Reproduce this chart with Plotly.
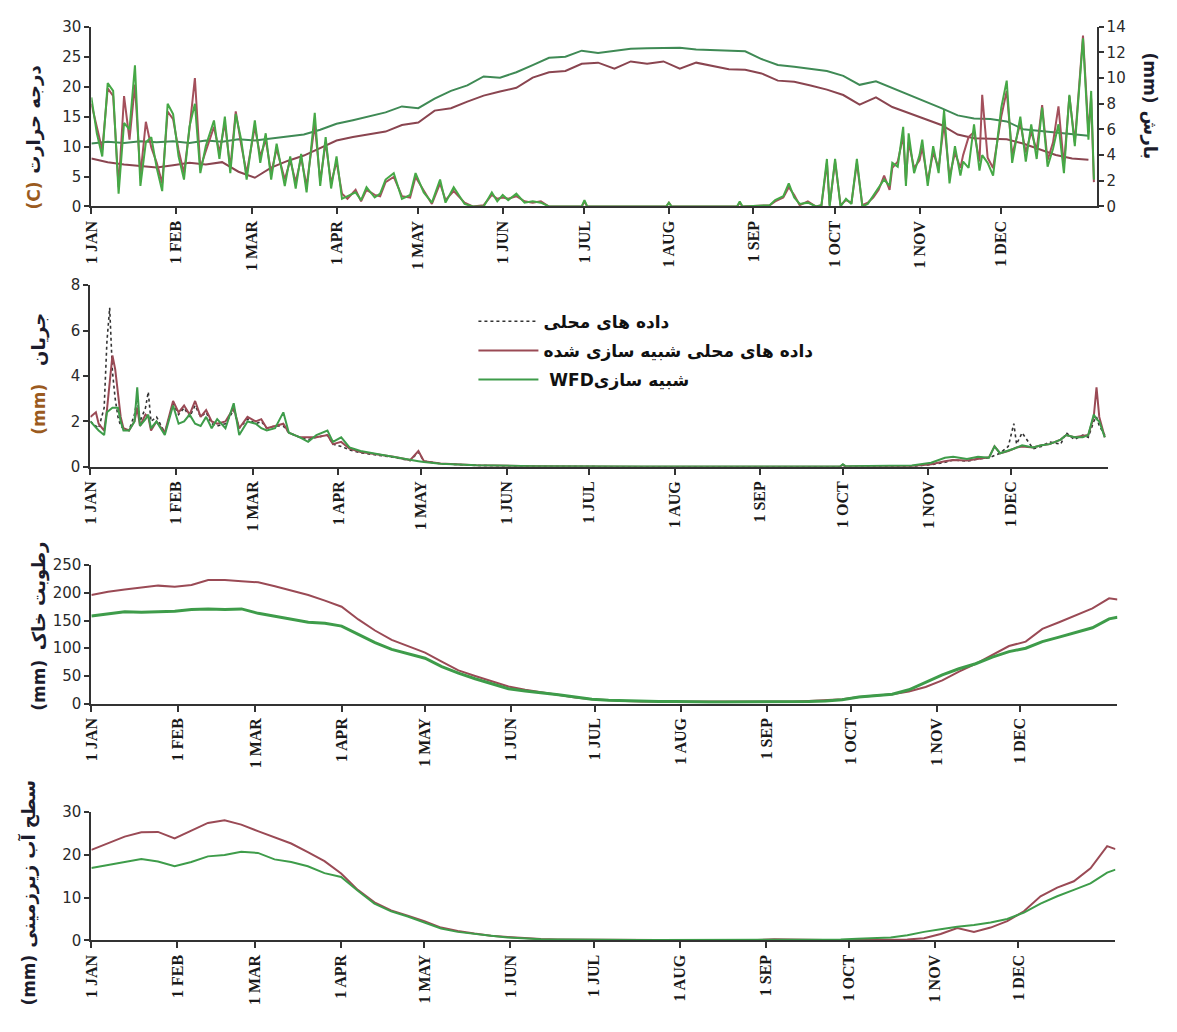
import plotly.graph_objects as go

W, H = 1177, 1032

MONTH_DAYS = [0, 31, 59, 90, 120, 151, 181, 212, 243, 273, 304, 334]
MONTH_LABELS = ["1 JAN", "1 FEB", "1 MAR", "1 APR", "1 MAY", "1 JUN",
                "1 JUL", "1 AUG", "1 SEP", "1 OCT", "1 NOV", "1 DEC"]

# ---------------- Panel 1: temperature (left axis) ----------------
TEMP_DAYS = list(range(0, 367, 6))
TEMP_GREEN = [10.5, 10.8, 10.6, 10.9, 10.7, 10.9, 10.6, 11.0, 10.8, 11.2,
              11.0, 11.3, 11.6, 12.0, 12.8, 13.8, 14.4, 15.0, 15.7, 16.7,
              16.4, 18.0, 19.3, 20.2, 21.7, 21.5, 22.4, 23.6, 24.8, 25.0,
              26.0, 25.6, 25.9, 26.3, 26.4, 26.5, 26.5, 26.2, 26.1, 26.0,
              25.9, 24.6, 23.6, 23.3, 23.0, 22.6, 21.8, 20.3, 20.9, 19.8,
              18.6, 17.5, 16.4, 15.2, 14.7, 14.6, 14.2, 12.9, 12.6, 12.4,
              12.1, 11.8]
TEMP_RED = [8.0, 7.4, 7.0, 6.7, 6.5, 6.9, 7.3, 7.0, 7.4, 5.8,
            4.8, 6.5, 7.6, 8.5, 9.8, 11.0, 11.6, 12.0, 12.5, 13.6,
            14.0, 16.0, 16.4, 17.5, 18.5, 19.2, 19.8, 21.5, 22.4, 22.6,
            23.8, 24.0, 23.0, 24.2, 23.8, 24.2, 23.0, 24.0, 23.5, 22.9,
            22.8, 22.2, 21.0, 20.8, 20.2, 19.5, 18.6, 17.0, 18.2, 16.6,
            15.6, 14.6, 13.6, 12.0, 11.4, 11.3, 11.2, 10.5, 9.5, 8.6,
            8.0, 7.8]

# ---------------- Panel 1: precipitation (right axis) ----------------
PRECIP_DAYS = [0, 2, 4, 6, 8, 10, 12, 14, 16, 18, 20, 22, 24, 26, 28, 30, 32, 34, 36, 38,
               40, 42, 45, 47, 49, 51, 53, 55, 57, 60, 62, 64, 66, 68, 71, 73, 75, 77, 79, 82,
               84, 86, 88, 90, 92, 94, 97, 99, 101, 104, 106, 108, 111, 114, 117, 119, 122, 125, 128, 130,
               133, 137, 140, 144, 147, 149, 151, 153, 156, 159, 162, 165, 168, 180, 181, 182, 211, 212, 213, 237,
               238, 239, 249, 251, 254, 256, 258, 260, 263, 266, 268, 270, 271, 273, 275, 277, 279, 281, 283, 285,
               287, 289, 291, 293, 294, 296, 298, 299, 300, 302, 304, 305, 307, 309, 311, 313, 315, 317, 319, 320,
               322, 324, 326, 327, 329, 331, 334, 336, 338, 341, 343, 345, 347, 349, 351, 353, 355, 357, 359, 361,
               364, 366, 367, 368]
PRECIP_GREEN = [8.5, 5.7, 3.9, 9.6, 9.0, 1.0, 6.5, 6.0, 11.0, 1.6, 5.0, 5.4, 3.0, 1.2, 8.0, 7.2, 3.9, 2.1, 6.2, 8.0,
                2.6, 4.7, 6.7, 3.7, 7.0, 2.6, 7.2, 5.2, 2.1, 6.7, 3.4, 5.7, 2.1, 4.9, 1.6, 3.9, 1.4, 4.1, 1.1, 7.3,
                1.6, 5.4, 1.4, 3.9, 0.6, 0.8, 1.1, 0.5, 1.5, 0.7, 1.0, 2.1, 2.6, 0.6, 0.9, 2.6, 1.1, 0.3, 2.1, 0.3,
                1.5, 0.2, 0.0, 0.0, 1.1, 0.4, 0.9, 0.5, 1.0, 0.3, 0.4, 0.3, 0.0, 0.0, 0.5, 0.0, 0.0, 0.3, 0.0, 0.0,
                0.4, 0.0, 0.1, 0.5, 0.8, 1.8, 0.7, 0.2, 0.3, 0.0, 0.1, 3.7, 0.0, 3.7, 0.0, 0.6, 0.2, 3.7, 0.0, 0.2,
                0.8, 1.5, 2.1, 1.6, 3.4, 3.1, 6.2, 1.6, 5.7, 2.6, 4.0, 5.2, 1.6, 4.7, 2.6, 7.5, 1.8, 4.7, 2.4, 3.5,
                3.0, 6.4, 2.8, 4.0, 3.4, 2.4, 7.7, 9.8, 3.4, 7.0, 3.5, 6.4, 3.7, 7.7, 3.1, 4.5, 6.4, 2.6, 8.7, 4.7,
                13.1, 5.2, 9.0, 2.1]
PRECIP_RED = [8.0, 6.3, 4.4, 9.2, 8.6, 1.5, 8.6, 5.2, 9.5, 2.4, 6.6, 4.6, 3.4, 1.8, 7.4, 6.8, 4.4, 2.6, 6.0, 10.0,
              3.0, 4.3, 6.2, 4.2, 6.5, 3.0, 7.4, 4.8, 2.6, 6.2, 3.9, 5.2, 2.6, 4.5, 2.1, 3.6, 1.9, 3.8, 1.6, 6.4,
              2.0, 5.0, 1.8, 3.5, 1.0, 0.6, 1.3, 0.4, 1.3, 0.9, 0.8, 1.9, 2.3, 0.8, 0.7, 2.3, 1.3, 0.2, 1.8, 0.5,
              1.2, 0.3, 0.0, 0.1, 0.9, 0.6, 0.7, 0.6, 0.8, 0.4, 0.3, 0.4, 0.0, 0.0, 0.4, 0.0, 0.0, 0.3, 0.0, 0.0,
              0.3, 0.0, 0.1, 0.4, 0.7, 1.5, 0.9, 0.1, 0.4, 0.0, 0.1, 3.4, 0.1, 3.5, 0.1, 0.5, 0.3, 3.4, 0.1, 0.3,
              0.7, 1.3, 2.4, 1.3, 3.0, 3.5, 5.5, 2.0, 5.0, 3.0, 3.6, 4.6, 2.0, 4.2, 3.0, 6.5, 2.3, 4.2, 3.0, 4.0,
              5.4, 5.8, 3.5, 8.7, 3.8, 3.0, 7.0, 9.0, 4.0, 6.5, 4.2, 5.8, 4.4, 7.9, 3.6, 5.0, 7.8, 3.2, 8.6, 5.0,
              13.3, 5.8, 8.4, 1.9]

# ---------------- Panel 2: streamflow ----------------
FLOW_DAYS = [0, 2, 3, 5, 6, 7, 8, 9, 10, 11, 12, 14, 16, 17, 18, 20, 21, 22, 24, 27,
             30, 32, 34, 36, 38, 40, 42, 44, 46, 49, 52, 54, 57, 60, 62, 64, 67, 70, 72, 76,
             79, 82, 86, 88, 91, 94, 98, 104, 110, 116, 119, 121, 127, 140, 161, 200, 250, 272, 273, 274,
             298, 305, 310, 313, 318, 322, 326, 328, 330, 333, 335, 336, 338, 342, 345, 348, 352, 354, 357, 360,
             362, 364, 365, 366, 368]
FLOW_OBS = [2.0, 1.8, 1.7, 2.6, 5.5, 7.0, 4.2, 3.0, 2.2, 1.8, 1.7, 1.6, 2.3, 3.0, 2.0, 2.6, 3.3, 2.0, 2.2, 1.5,
            2.8, 2.3, 2.6, 2.2, 2.7, 2.2, 2.4, 1.9, 1.8, 1.9, 2.5, 1.7, 2.1, 1.9, 2.0, 1.7, 1.8, 1.8, 1.5, 1.3,
            1.2, 1.3, 1.4, 1.0, 0.9, 0.75, 0.62, 0.52, 0.42, 0.28, 0.65, 0.25, 0.14, 0.06, 0.02, 0.0, 0.0, 0.0, 0.08, 0.0,
            0.02, 0.1, 0.2, 0.3, 0.25, 0.35, 0.4, 0.5, 0.6, 0.9, 1.9, 1.0, 1.5, 0.8, 0.9, 1.1, 1.0, 1.5, 1.2, 1.4,
            1.3, 2.0, 2.2, 1.8, 1.4]
FLOW_RED = [2.2, 2.4, 1.9, 1.6, 2.5, 3.6, 4.9, 4.3, 3.2, 2.2, 1.7, 1.6, 2.0, 2.6, 1.8, 2.3, 2.2, 1.6, 2.0, 1.5,
            2.9, 2.4, 2.7, 2.3, 2.9, 2.2, 2.5, 2.0, 1.9, 2.0, 2.6, 1.7, 2.2, 2.0, 2.1, 1.7, 1.8, 1.9, 1.5, 1.3,
            1.3, 1.3, 1.4, 1.0, 1.1, 0.8, 0.65, 0.55, 0.45, 0.3, 0.7, 0.25, 0.15, 0.07, 0.03, 0.01, 0.01, 0.01, 0.1, 0.02,
            0.04, 0.12, 0.25, 0.3, 0.28, 0.35, 0.42, 0.9, 0.6, 0.7, 0.8, 0.85, 0.9, 0.85, 0.95, 1.0, 1.2, 1.4, 1.3, 1.35,
            1.4, 2.2, 3.5, 2.2, 1.3]
FLOW_GREEN = [2.0, 1.7, 1.6, 1.4, 2.4, 2.5, 2.6, 2.6, 2.6, 2.0, 1.6, 1.6, 2.0, 3.5, 1.8, 2.1, 2.3, 1.7, 2.0, 1.4,
              2.7, 1.9, 2.0, 2.3, 1.9, 1.8, 2.2, 1.7, 2.1, 1.7, 2.8, 1.4, 2.0, 1.9, 1.7, 1.6, 1.7, 2.4, 1.5, 1.3,
              1.1, 1.4, 1.6, 1.1, 1.3, 0.86, 0.7, 0.57, 0.43, 0.29, 0.25, 0.21, 0.14, 0.07, 0.03, 0.02, 0.02, 0.02, 0.12, 0.03,
              0.06, 0.18, 0.4, 0.45, 0.35, 0.45, 0.4, 0.9, 0.6, 0.7, 0.8, 0.85, 0.95, 0.85, 0.95, 1.0, 1.2, 1.4, 1.3, 1.3,
              1.4, 2.3, 2.1, 2.0, 1.3]

# ---------------- Panel 3: soil moisture ----------------
SOIL_DAYS = list(range(0, 367, 6)) + [369]
SOIL_RED = [196, 202, 206, 210, 213, 211, 214, 223, 223, 221,
            219, 212, 204, 196, 186, 175, 152, 132, 115, 104,
            92, 76, 60, 50, 40, 31, 25, 20, 15, 11,
            8, 6, 5, 4, 4, 3, 3, 3, 3, 3,
            3, 4, 4, 5, 6, 8, 12, 14, 17, 22,
            30, 42, 58, 72, 88, 104, 112, 135, 147, 160,
            172, 190, 188]
SOIL_GREEN = [158, 162, 166, 165, 166, 167, 170, 171, 170, 171,
              163, 158, 153, 147, 145, 140, 125, 110, 98, 90,
              82, 67, 55, 45, 36, 27, 23, 20, 16, 12,
              8, 6, 5, 4, 4, 4, 3, 3, 3, 3,
              3, 4, 4, 4, 5, 7, 12, 14, 17, 25,
              38, 52, 63, 72, 84, 94, 100, 112, 120, 128,
              137, 153, 156]

# ---------------- Panel 4: groundwater ----------------
GW_DAYS = list(range(0, 367, 6)) + [369]
GW_RED = [21.1, 22.6, 24.2, 25.2, 25.3, 23.8, 25.6, 27.4, 28.0, 27.0,
          25.5, 24.0, 22.6, 20.6, 18.5, 15.6, 11.8, 8.9, 7.0, 5.8,
          4.5, 3.0, 2.2, 1.6, 1.1, 0.8, 0.5, 0.35, 0.25, 0.2,
          0.15, 0.1, 0.1, 0.1, 0.1, 0.1, 0.1, 0.1, 0.1, 0.1,
          0.1, 0.3, 0.2, 0.1, 0.1, 0.1, 0.1, 0.1, 0.1, 0.2,
          0.5, 1.5, 2.9, 2.0, 3.0, 4.5, 6.8, 10.3, 12.3, 13.8,
          16.8, 22.0, 21.3]
GW_GREEN = [16.9, 17.6, 18.3, 19.0, 18.4, 17.3, 18.3, 19.6, 19.9, 20.7,
            20.4, 18.9, 18.3, 17.3, 15.7, 14.8, 11.6, 8.6, 6.8, 5.6,
            4.2, 2.8, 2.0, 1.5, 1.1, 0.7, 0.45, 0.3, 0.2, 0.15,
            0.1, 0.1, 0.1, 0.1, 0.1, 0.1, 0.1, 0.1, 0.1, 0.1,
            0.1, 0.1, 0.1, 0.1, 0.1, 0.2, 0.4, 0.5, 0.7, 1.2,
            2.0, 2.6, 3.2, 3.6, 4.2, 5.0, 6.5, 8.6, 10.3, 11.8,
            13.3, 15.8, 16.5]

LEGEND_NAMES = ["داده های محلی", "داده های محلی شبیه سازی شده", " WFDشبیه سازی"]

assert len(TEMP_DAYS) == len(TEMP_GREEN) == len(TEMP_RED)
assert len(PRECIP_DAYS) == len(PRECIP_GREEN) == len(PRECIP_RED)
assert len(FLOW_DAYS) == len(FLOW_OBS) == len(FLOW_RED) == len(FLOW_GREEN)
assert len(SOIL_DAYS) == len(SOIL_RED) == len(SOIL_GREEN)
assert len(GW_DAYS) == len(GW_RED) == len(GW_GREEN)

RED = "#9A4A55"
GREEN = "#3E9C4A"
RED_T = "#8A4550"
GREEN_T = "#3F8A55"
GREEN_P = "#46A846"
RED_P = "#A4505C"


def px_x(p):
    return p / W


def px_y(p):
    return 1 - p / H


fig = go.Figure()

# Panel 1
fig.add_trace(go.Scatter(x=TEMP_DAYS, y=TEMP_RED, mode="lines", line=dict(color=RED_T, width=2),
                         xaxis="x", yaxis="y", showlegend=False))
fig.add_trace(go.Scatter(x=TEMP_DAYS, y=TEMP_GREEN, mode="lines", line=dict(color=GREEN_T, width=2),
                         xaxis="x", yaxis="y", showlegend=False))
fig.add_trace(go.Scatter(x=PRECIP_DAYS, y=PRECIP_RED, mode="lines", line=dict(color=RED_P, width=2),
                         xaxis="x", yaxis="y2", showlegend=False))
fig.add_trace(go.Scatter(x=PRECIP_DAYS, y=PRECIP_GREEN, mode="lines", line=dict(color=GREEN_P, width=2),
                         xaxis="x", yaxis="y2", showlegend=False))

# Panel 2
fig.add_trace(go.Scatter(x=FLOW_DAYS, y=FLOW_OBS, mode="lines", name=LEGEND_NAMES[0],
                         line=dict(color="#333333", width=1.6, dash="dot"),
                         xaxis="x2", yaxis="y3", legendgroup="a"))
fig.add_trace(go.Scatter(x=FLOW_DAYS, y=FLOW_RED, mode="lines", name=LEGEND_NAMES[1],
                         line=dict(color=RED, width=2),
                         xaxis="x2", yaxis="y3", legendgroup="b"))
fig.add_trace(go.Scatter(x=FLOW_DAYS, y=FLOW_GREEN, mode="lines", name=LEGEND_NAMES[2],
                         line=dict(color=GREEN, width=2),
                         xaxis="x2", yaxis="y3", legendgroup="c"))

# Panel 3
fig.add_trace(go.Scatter(x=SOIL_DAYS, y=SOIL_RED, mode="lines", line=dict(color=RED, width=2),
                         xaxis="x3", yaxis="y4", showlegend=False))
fig.add_trace(go.Scatter(x=SOIL_DAYS, y=SOIL_GREEN, mode="lines", line=dict(color=GREEN, width=3),
                         xaxis="x3", yaxis="y4", showlegend=False))

# Panel 4
fig.add_trace(go.Scatter(x=GW_DAYS, y=GW_RED, mode="lines", line=dict(color=RED, width=2),
                         xaxis="x4", yaxis="y5", showlegend=False))
fig.add_trace(go.Scatter(x=GW_DAYS, y=GW_GREEN, mode="lines", line=dict(color=GREEN, width=2),
                         xaxis="x4", yaxis="y5", showlegend=False))

AXIS_COLOR = "#333333"
xtick_font = dict(family="Liberation Serif", size=16, color="#1a1a1a")
ytick_font = dict(family="DejaVu Sans", size=15, color="#2a2a2a")


def xaxis(domain_px, anchor):
    return dict(domain=[px_x(domain_px[0]), px_x(domain_px[1])], anchor=anchor,
                range=[0, 369], tickmode="array", tickvals=MONTH_DAYS,
                ticktext=["<b>%s</b>" % t for t in MONTH_LABELS],
                tickangle=-90, ticks="outside", ticklen=6, tickwidth=1.5, tickcolor=AXIS_COLOR,
                showline=True, linecolor=AXIS_COLOR, linewidth=2, showgrid=False, zeroline=False,
                tickfont=xtick_font, fixedrange=True)


def yaxis(domain_px, anchor, rng, dtick, side="left", overlaying=None):
    d = dict(anchor=anchor, range=rng, dtick=dtick, tick0=0,
             ticks="outside", ticklen=5, tickwidth=1.5, tickcolor=AXIS_COLOR,
             showline=True, linecolor=AXIS_COLOR, linewidth=2, showgrid=False, zeroline=False,
             tickfont=ytick_font, side=side, fixedrange=True)
    if overlaying:
        d["overlaying"] = overlaying
    else:
        d["domain"] = [px_y(domain_px[1]), px_y(domain_px[0])]
    return d


layout = dict(
    width=W, height=H,
    margin=dict(l=0, r=0, t=0, b=0),
    paper_bgcolor="white", plot_bgcolor="white",
    xaxis=xaxis((83, 1096), "y"),
    yaxis=yaxis((18, 201), "x", [0, 30], 5),
    yaxis2=yaxis(None, "x", [0, 14], 2, side="right", overlaying="y"),
    xaxis2=xaxis((82, 1107), "y3"),
    yaxis3=yaxis((281, 466), "x2", [0, 8], 2),
    xaxis3=xaxis((83, 1117), "y4"),
    yaxis4=yaxis((566, 707), "x3", [0, 250], 50),
    xaxis4=xaxis((83, 1115), "y5"),
    yaxis5=yaxis((817, 948), "x4", [0, 30], 10),
    legend=dict(x=px_x(468), y=px_y(300), xanchor="left", yanchor="top",
                bgcolor="rgba(0,0,0,0)", itemwidth=60, tracegroupgap=4,
                traceorder="grouped",
                font=dict(family="DejaVu Sans", size=17, color="#111111", weight="bold")),
    showlegend=True,
)
fig.update_layout(**layout)

TITLE_DARK = "#1c1c2c"
TITLE_ACC = "#9a5a20"
title_font = dict(family="DejaVu Sans", size=18, color=TITLE_DARK)
acc_font = dict(family="DejaVu Sans", size=17, color=TITLE_ACC)
mm_font = dict(family="DejaVu Sans", size=17, color=TITLE_DARK)

ann = [
    (25, 112, "<b>درجه حرارت</b>", title_font, -90),
    (25, 190, "<b>(C)</b>", acc_font, -90),
    (1150, 70, "<b>(mm)</b>", mm_font, 90),
    (1150, 128, "<b>بارش</b>", title_font, 90),
    (30, 336, "<b>جریان</b>", title_font, -90),
    (30, 407, "<b>(mm)</b>", acc_font, -90),
    (30, 597, "<b>رطوبت خاک</b>", title_font, -90),
    (30, 688, "<b>(mm)</b>", mm_font, -90),
    (20, 870, "<b>سطح آب زیرزمینی</b>", title_font, -90),
    (20, 988, "<b>(mm)</b>", mm_font, -90),
]
for x, y, t, f, ang in ann:
    fig.add_annotation(x=px_x(x), y=px_y(y), xref="paper", yref="paper", text=t,
                       showarrow=False, textangle=ang, font=f, xanchor="center", yanchor="middle")

fig.write_html("out.html")
